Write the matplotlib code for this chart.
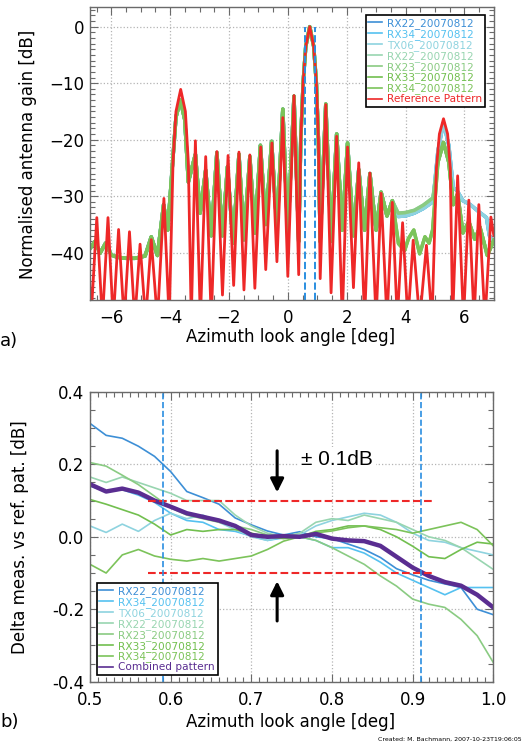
import matplotlib
matplotlib.use('Agg')
import matplotlib.pyplot as plt
from matplotlib.ticker import MultipleLocator, FormatStrFormatter

plt.rcParams['font.family'] = ['DejaVu Sans']
plt.rcParams['axes.unicode_minus'] = True

# ---------------- panel a) : antenna patterns ----------------
# reference pattern, lobe peaks and nulls [deg], [dB]
ref_x = [-6.75, -6.69, -6.49, -6.30, -6.11, -5.93, -5.75, -5.56, -5.38, -5.20,
         -5.02, -4.83, -4.64, -4.43, -4.21, -4.03, -3.90, -3.80, -3.64, -3.48,
         -3.38, -3.28, -3.14, -2.97, -2.79, -2.60, -2.41, -2.22, -2.03, -1.84,
         -1.66, -1.49, -1.29, -1.12, -0.92, -0.75, -0.54, -0.37, -0.17, 0.00,
         0.21, 0.37, 0.44, 0.52, 0.61, 0.745, 0.88, 0.97, 1.04, 1.10,
         1.29, 1.47, 1.66, 1.85, 2.03, 2.23, 2.41, 2.61, 2.79, 3.00,
         3.17, 3.37, 3.55, 3.72, 3.90, 4.08, 4.26, 4.48, 4.71, 4.90,
         5.05, 5.15, 5.29, 5.43, 5.52, 5.60, 5.77, 5.97, 6.15, 6.33,
         6.49, 6.70, 6.90, 7.00]
ref_db = [-42.0, -52, -33.8, -52, -33.8, -52, -35.9, -52, -36.3, -52,
          -38.5, -52, -37.7, -52, -30.4, -52, -24.0, -15.0, -11.1, -15.0,
          -24.0, -52, -20.2, -52, -23.0, -52, -22.1, -47.5, -22.8, -45.8,
          -22.2, -46.6, -22.7, -46.3, -21.3, -43.0, -20.6, -41.6, -16.1, -44.2,
          -12.2, -43.9, -20.0, -10.0, -3.5, 0.0, -3.5, -10.0, -20.0, -44.6,
          -13.8, -47.1, -19.4, -52, -21.3, -46.2, -24.1, -52, -25.9, -52,
          -29.5, -52, -31.1, -52, -34.7, -52, -37.8, -52, -38.7, -52,
          -25.0, -19.0, -16.3, -19.0, -25.0, -52, -26.4, -52, -30.7, -52,
          -31.5, -52, -33.7, -37.0]

# measured patterns, common part up to 3.6 deg
meas_x = [-6.75, -6.55, -6.38, -6.19, -6.00, -5.80, -5.50, -5.20, -4.85, -4.64,
          -4.43, -4.22, -4.08, -3.92, -3.80, -3.65, -3.50, -3.38, -3.14, -2.98,
          -2.79, -2.60, -2.41, -2.22, -2.05, -1.86, -1.66, -1.49, -1.29, -1.12,
          -0.93, -0.75, -0.55, -0.37, -0.17, 0.00, 0.21, 0.37, 0.44, 0.52,
          0.61, 0.745, 0.88, 0.97, 1.04, 1.10, 1.29, 1.47, 1.66, 1.85,
          2.03, 2.23, 2.41, 2.61, 2.79, 3.00, 3.17, 3.37, 3.55]
meas_db = [-39.5, -38.0, -40.1, -38.3, -40.4, -40.8, -41.0, -41.0, -40.6, -37.2,
           -40.5, -31.5, -36.0, -24.5, -16.0, -13.0, -16.5, -27.5, -22.6, -33.0,
           -25.4, -37.0, -22.3, -37.0, -24.8, -38.3, -22.6, -37.7, -23.0, -36.5,
           -21.0, -35.0, -20.3, -35.9, -14.6, -37.0, -12.3, -38.0, -20.0, -10.0,
           -3.5, 0.0, -3.5, -10.0, -20.0, -38.0, -13.7, -38.0, -19.0, -36.0,
           -20.6, -37.0, -25.3, -36.0, -26.0, -36.0, -29.3, -33.5, -30.8]

# tails beyond 3.6 deg
blue_tail_x = [3.75, 4.00, 4.30, 4.60, 4.93, 5.10, 5.29, 5.47, 5.62, 5.75,
               5.95, 6.20, 6.50, 6.75, 6.85, 7.00]
blue_tail_db = [-33.6, -33.5, -33.0, -32.2, -31.0, -22.0, -17.0, -21.0, -28.5, -29.0,
                -30.8, -31.5, -32.8, -33.8, -37.0, -38.0]
bridge_tail_x = [3.75, 4.00, 4.30, 4.60, 4.93, 5.10, 5.29, 5.47, 5.62, 5.77,
                 5.95, 6.15, 6.35, 6.53, 6.78, 7.00]
bridge_tail_db = [-33.0, -32.9, -32.5, -31.6, -30.3, -24.0, -20.5, -24.0, -31.5, -29.6,
                  -36.5, -34.5, -37.6, -35.5, -40.5, -37.8]
wiggle_tail_x = [3.76, 3.97, 4.10, 4.28, 4.48, 4.66, 4.80, 4.92, 5.10, 5.29,
                 5.47, 5.62, 5.77, 5.95, 6.15, 6.35, 6.53, 6.78, 7.00]
wiggle_tail_db = [-38.4, -39.6, -37.5, -36.0, -40.2, -37.2, -38.3, -36.0, -24.0, -20.5,
                  -24.0, -31.5, -29.6, -36.5, -34.5, -37.6, -35.5, -40.5, -37.8]

labels_a = ['RX22_20070812', 'RX34_20070812', 'TX06_20070812', 'RX22_20070812',
            'RX23_20070812', 'RX33_20070812', 'RX34_20070812']
tails = ['blue', 'blue', 'blue', 'bridge', 'bridge', 'wiggle', 'wiggle']
colors = ['#3d8fd6', '#55c1f0', '#8ed3df', '#98d5b0', '#8acb82', '#72bf4f', '#7cc35a']
ref_color = '#ee2828'

beam_edges = [0.59, 0.91]  # blue dashed lines

# ---------------- panel b) : deviation from reference ----------------
dx = [0.50, 0.52, 0.54, 0.56, 0.58, 0.60, 0.62, 0.64, 0.66, 0.68, 0.70, 0.72, 0.74,
      0.76, 0.78, 0.80, 0.82, 0.84, 0.86, 0.88, 0.90, 0.92, 0.94, 0.96, 0.98, 1.00]
d_rx22 = [0.313, 0.280, 0.272, 0.250, 0.222, 0.180, 0.125, 0.108, 0.090, 0.052, 0.033, 0.016, 0.005,
          0.014, 0.000, -0.005, -0.020, -0.035, -0.057, -0.088, -0.105, -0.120, -0.130, -0.140, -0.200, -0.215]
d_rx34 = [0.140, 0.125, 0.130, 0.115, 0.095, 0.065, 0.045, 0.040, 0.020, 0.015, 0.002, -0.010, -0.003,
          0.000, -0.010, -0.030, -0.030, -0.045, -0.070, -0.100, -0.120, -0.140, -0.160, -0.140, -0.140, -0.140]
d_tx06 = [0.030, 0.012, 0.035, 0.015, 0.045, 0.065, 0.050, 0.060, 0.040, 0.020, 0.000, -0.010, 0.000,
          0.005, 0.030, 0.045, 0.055, 0.065, 0.060, 0.040, 0.010, -0.010, -0.015, -0.030, -0.040, -0.050]
d_rx22g = [0.165, 0.150, 0.165, 0.150, 0.135, 0.120, 0.100, 0.100, 0.100, 0.060, 0.030, 0.010, 0.000,
           0.010, 0.040, 0.050, 0.045, 0.060, 0.050, 0.040, 0.020, 0.000, -0.010, -0.030, -0.060, -0.090]
d_rx23 = [0.205, 0.195, 0.170, 0.144, 0.112, 0.080, 0.060, 0.050, 0.040, 0.030, 0.020, 0.005, 0.000,
          0.000, -0.010, -0.030, -0.053, -0.076, -0.108, -0.136, -0.172, -0.186, -0.195, -0.228, -0.273, -0.347]
d_rx33 = [0.103, 0.090, 0.075, 0.060, 0.035, 0.005, 0.020, 0.015, 0.020, 0.020, 0.010, 0.000, -0.005,
          0.000, 0.015, 0.020, 0.030, 0.030, 0.020, 0.000, -0.026, -0.055, -0.060, -0.035, -0.015, -0.020]
d_rx34g = [-0.076, -0.100, -0.050, -0.035, -0.053, -0.062, -0.067, -0.060, -0.067, -0.060, -0.053, -0.035, -0.012,
           0.000, 0.011, 0.016, 0.025, 0.030, 0.025, 0.020, 0.010, 0.020, 0.030, 0.040, 0.020, -0.025]
d_comb = [0.145, 0.125, 0.133, 0.122, 0.100, 0.083, 0.065, 0.055, 0.045, 0.030, 0.005, 0.000, 0.002,
          0.000, 0.008, -0.005, -0.010, -0.012, -0.025, -0.055, -0.085, -0.108, -0.125, -0.135, -0.160, -0.195]
deltas = [d_rx22, d_rx34, d_tx06, d_rx22g, d_rx23, d_rx33, d_rx34g]
comb_color = '#5a2d91'

tolerance = 0.1
tol_span = [0.572, 0.928]


def style_axes(ax):
    for s in ax.spines.values():
        s.set_color('#6a6a6a')
        s.set_linewidth(1.0)
    ax.tick_params(which='both', direction='in', top=True, right=True, colors='#6a6a6a',
                   labelcolor='black', labelsize=12)
    ax.tick_params(which='major', length=6, width=0.8)
    ax.tick_params(which='minor', length=3.5, width=0.8)
    ax.tick_params(axis='x', pad=7)
    ax.tick_params(axis='y', pad=4)
    ax.grid(True, which='major', color='#b4b4b4', linestyle=':', linewidth=0.9)
    ax.set_axisbelow(True)


def make_legend(ax, **kw):
    leg = ax.legend(borderaxespad=0, fontsize=7.6, labelcolor='linecolor',
                    handlelength=1.3, handletextpad=0.5, labelspacing=0.0,
                    borderpad=0.25, fancybox=False, framealpha=1, **kw)
    leg.get_frame().set_edgecolor('black')
    leg.get_frame().set_linewidth(1.2)
    for line in leg.get_lines():
        line.set_linewidth(1.2)
    return leg


fig = plt.figure(figsize=(5.31, 7.47), dpi=100)

# ----- a)
ax1 = fig.add_axes([0.169, 0.599, 0.761, 0.391])
tail_data = {'blue': (blue_tail_x, blue_tail_db),
             'bridge': (bridge_tail_x, bridge_tail_db),
             'wiggle': (wiggle_tail_x, wiggle_tail_db)}
for lab, tail, c in zip(labels_a, tails, colors):
    tx, ty = tail_data[tail]
    ax1.plot(meas_x + tx, meas_db + ty, color=c, lw=2.5, label=lab)
ax1.plot(ref_x, ref_db, color=ref_color, lw=2.0, label='Reference Pattern')
ax1.vlines(beam_edges, -48.3, 0, colors='#2a8ee0', linestyles='--', lw=1.4)

ax1.set_xlim(-6.73, 7.0)
ax1.set_ylim(-48.3, 3.4)
ax1.xaxis.set_major_locator(MultipleLocator(2))
ax1.xaxis.set_minor_locator(MultipleLocator(0.5))
ax1.yaxis.set_major_locator(MultipleLocator(10))
ax1.yaxis.set_minor_locator(MultipleLocator(1))
style_axes(ax1)
ax1.set_xlabel('Azimuth look angle [deg]', fontsize=12)
ax1.set_ylabel('Normalised antenna gain [dB]', fontsize=12)
ax1.xaxis.set_label_coords(0.497, -0.129)
ax1.xaxis.label.set_va('center')
ax1.yaxis.set_label_coords(-0.152, 0.497)
ax1.yaxis.label.set_va('center')
make_legend(ax1, loc='upper right', bbox_to_anchor=(0.978, 0.973))

# ----- b)
ax2 = fig.add_axes([0.1695, 0.0874, 0.7595, 0.388])
for lab, c, d in zip(labels_a, colors, deltas):
    ax2.plot(dx, d, color=c, lw=1.2, label=lab)
ax2.plot(dx, d_comb, color=comb_color, lw=3.2, label='Combined pattern')
ax2.hlines([tolerance, -tolerance], tol_span[0], tol_span[1], colors=ref_color,
           linestyles='--', lw=1.5)
ax2.axvline(beam_edges[0], color='#2a8ee0', ls='--', lw=1.2)
ax2.axvline(beam_edges[1], color='#2a8ee0', ls='--', lw=1.2)

# tolerance arrows and text
ax2.annotate('', xy=(0.732, tolerance + 0.015), xytext=(0.732, 0.245),
             arrowprops=dict(arrowstyle='-|>', color='black', lw=2.2, mutation_scale=20))
ax2.annotate('', xy=(0.732, -tolerance - 0.015), xytext=(0.732, -0.24),
             arrowprops=dict(arrowstyle='-|>', color='black', lw=2.2, mutation_scale=20))
ax2.text(0.762, 0.213, '± 0.1dB', fontsize=15, va='center', ha='left',
         family=['Liberation Sans Narrow', 'Liberation Sans', 'DejaVu Sans'],
         bbox=dict(facecolor='white', edgecolor='none', pad=2))

ax2.set_xlim(0.5, 1.0)
ax2.set_ylim(-0.4, 0.4)
ax2.xaxis.set_major_locator(MultipleLocator(0.1))
ax2.xaxis.set_minor_locator(MultipleLocator(0.01))
ax2.yaxis.set_major_locator(MultipleLocator(0.2))
ax2.yaxis.set_minor_locator(MultipleLocator(0.05))
ax2.xaxis.set_major_formatter(FormatStrFormatter('%.1f'))
ax2.yaxis.set_major_formatter(FormatStrFormatter('%.1f'))
style_axes(ax2)
ax2.set_xlabel('Azimuth look angle [deg]', fontsize=12)
ax2.set_ylabel('Delta meas. vs ref. pat. [dB]', fontsize=12)
ax2.xaxis.set_label_coords(0.497, -0.138)
ax2.xaxis.label.set_va('center')
ax2.yaxis.set_label_coords(-0.174, 0.5)
ax2.yaxis.label.set_va('center')
make_legend(ax2, loc='lower left', bbox_to_anchor=(0.017, 0.023))

# panel letters and credit line
fig.text(0.0, 0.543, 'a)', fontsize=13, va='center', ha='left')
fig.text(0.0, 0.034, 'b)', fontsize=13, va='center', ha='left')
fig.text(0.983, 0.011, 'Created: M. Bachmann, 2007-10-23T19:06:05', fontsize=4.5,
         ha='right', va='center')

fig.savefig('out.png', dpi=100)
